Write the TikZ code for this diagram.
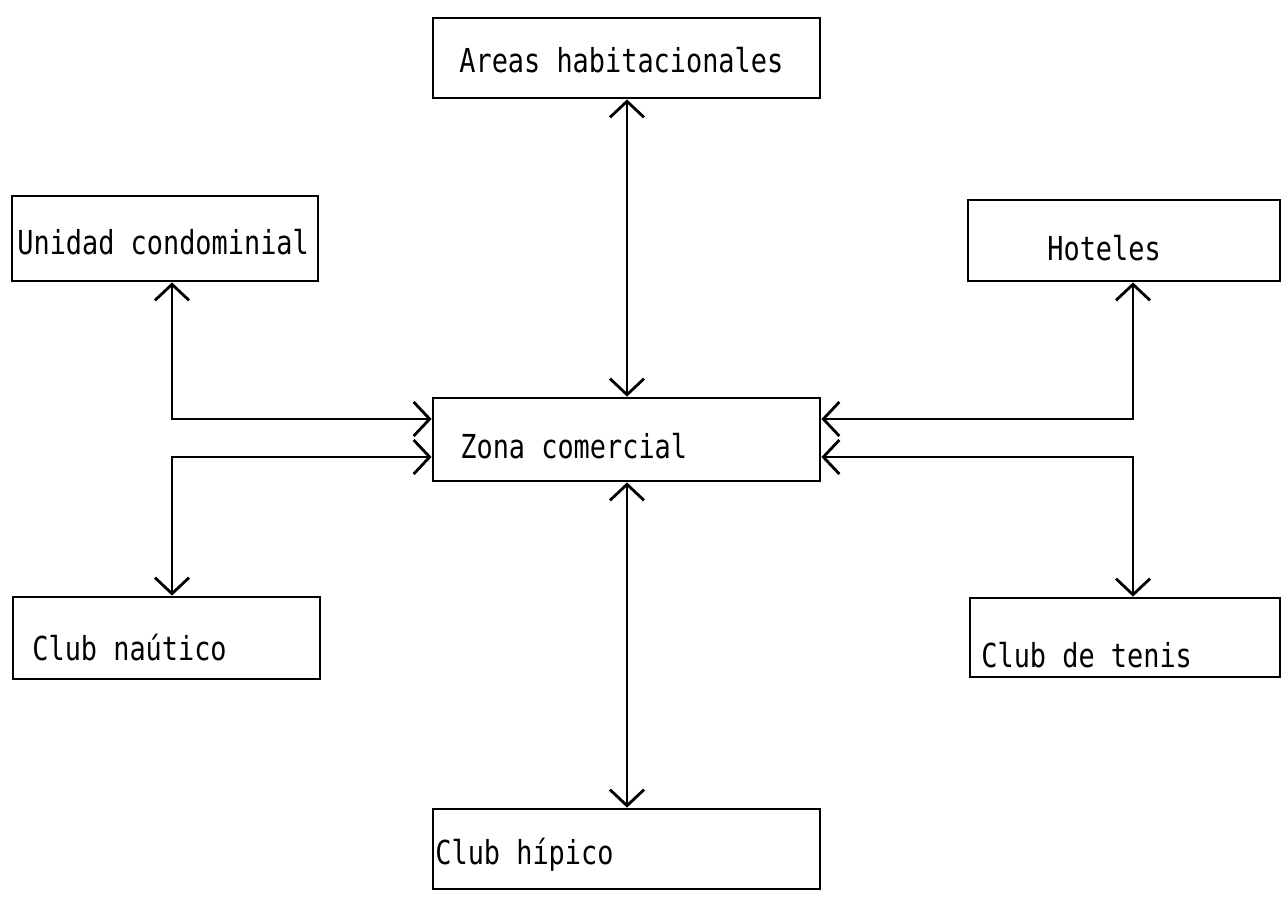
\documentclass[tikz,border=0pt]{standalone}
\usepackage{fontspec}
\usetikzlibrary{arrows.meta}
\newfontfamily\typewriter[FakeStretch=0.815]{DejaVu Sans Mono}
\begin{document}
\begin{tikzpicture}[x=0.5pt,y=-0.5pt,
  box/.style={draw,line width=1.4pt,rectangle,inner sep=0pt},
  lbl/.style={anchor=base west,inner sep=0pt,font=\typewriter\fontsize{16.5pt}{18pt}\selectfont},
  conn/.style={line width=1.4pt,{Straight Barb[length=8pt,width=17pt]}-{Straight Barb[length=8pt,width=17pt]}}]
  \useasboundingbox (0,0) rectangle (1282,896);
  % boxes given by their corners (pixel grid)
  \newcommand\mkbox[5]{\node[box,minimum width={(#4-#2)*0.5pt},minimum height={(#5-#3)*0.5pt}] (#1) at ({(#2+#4)/2},{(#3+#5)/2}) {};}
  \mkbox{areas}{433}{18}{820}{98}
  \mkbox{unidad}{12}{196}{318}{281}
  \mkbox{hoteles}{968}{200}{1280}{281}
  \mkbox{zona}{433}{398}{820}{481}
  \mkbox{nautico}{13}{597}{320}{679}
  \mkbox{tenis}{970}{598}{1280}{677}
  \mkbox{hipico}{433}{809}{820}{889}
  % labels
  \node[lbl] (tareas) at (459,72) {Areas habitacionales};
  \node[lbl] (tunidad) at (17,254) {Unidad condominial};
  \node[lbl] (thoteles) at (1047,260) {Hoteles};
  \node[lbl] (tzona) at (460,458) {Zona comercial};
  \node[lbl] (tnautico) at (32,660) {Club naútico};
  \node[lbl] (ttenis) at (981,667) {Club de tenis};
  \node[lbl] (thipico) at (435,864) {Club hípico};
  % guide coordinates for the connector routes
  \coordinate (lv) at (172,0);
  \coordinate (cv) at (627,0);
  \coordinate (rv) at (1133,0);
  \coordinate (hu) at (0,419);
  \coordinate (hl) at (0,457);
  % connectors
  \draw[conn] (areas.south -| cv) -- (zona.north -| cv);
  \draw[conn] (zona.south -| cv) -- (hipico.north -| cv);
  \draw[conn] (unidad.south -| lv) -- (lv |- hu) -- (zona.west |- hu);
  \draw[conn] (zona.west |- hl) -- (lv |- hl) -- (nautico.north -| lv);
  \draw[conn] (hoteles.south -| rv) -- (rv |- hu) -- (zona.east |- hu);
  \draw[conn] (zona.east |- hl) -- (rv |- hl) -- (tenis.north -| rv);
\end{tikzpicture}
\end{document}
